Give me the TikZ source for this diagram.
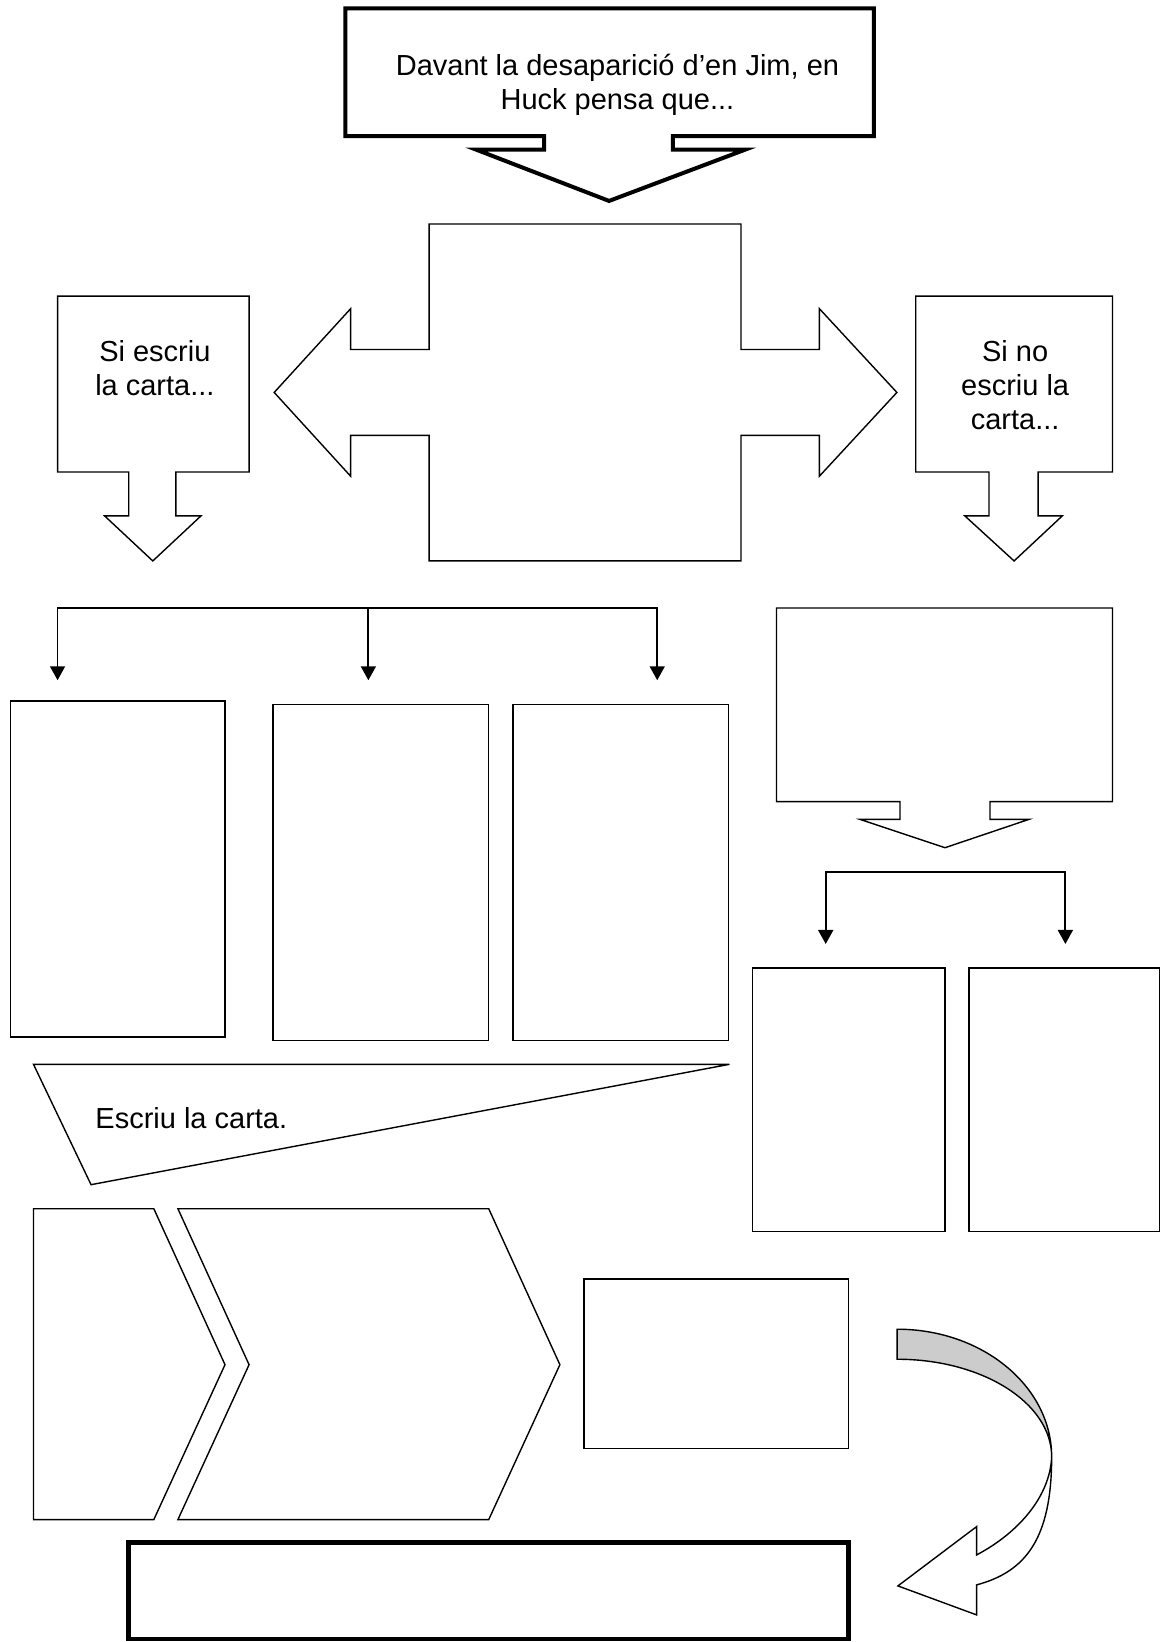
\documentclass[tikz,border=0pt]{standalone}
\usepackage{fontspec}
\setmainfont{Liberation Sans}
\usetikzlibrary{arrows.meta,fit}
\begin{document}
\begin{tikzpicture}[x=1.0466pt,y=-1.0466pt,
  outl/.style={draw, line width=1.4pt, line join=miter, fill=white},
  heavy/.style={draw, line width=4pt, line join=miter, fill=white},
  box/.style={draw, line width=1.4pt, inner sep=0pt},
  conn/.style={line width=1.8pt, -{Triangle[width=15pt,length=14pt]}},
  lbl/.style={font=\fontsize{29}{34}\selectfont, align=center, inner sep=0pt},
  backband/.style={draw, line width=1.4pt, fill=black!20}]
\useasboundingbox (0,0) rectangle (1116,1569);

% top callout
\path[heavy] (330,8) -- (835,8) -- (835,130) -- (643,130) -- (643,143) -- (712,143)
  -- (582,192) -- (455,143) -- (520,143) -- (520,130) -- (330,130) -- cycle;
\node[lbl] (top) at (590,81) {Davant la desaparició d’en Jim, en\\Huck pensa que...};

% central double arrow
\path[outl] (410,214) -- (708,214) -- (708,334) -- (783,334) -- (783,295) -- (857,375)
  -- (783,455) -- (783,416) -- (708,416) -- (708,536) -- (410,536) -- (410,416)
  -- (335,416) -- (335,455) -- (262,375) -- (335,295) -- (335,334) -- (410,334) -- cycle;

% left callout
\path[outl] (55,283) -- (238,283) -- (238,451) -- (168,451) -- (168,493) -- (192,493)
  -- (146,536) -- (100,493) -- (123,493) -- (123,451) -- (55,451) -- cycle;
\node[lbl] (siescriu) at (148,352) {Si escriu\\la carta...};

% right callout
\path[outl] (875,283) -- (1063,283) -- (1063,451) -- (992,451) -- (992,493) -- (1015,493)
  -- (969,536) -- (922,493) -- (945,493) -- (945,451) -- (875,451) -- cycle;
\node[lbl] (sinoescriu) at (970,368) {Si no\\escriu la\\carta...};

% left connectors
\coordinate (Lbar) at (352,581);
\coordinate (L1) at (55,650);
\coordinate (L2) at (352,650);
\coordinate (L3) at (628,650);
\draw[conn] (Lbar) -| (L1);
\draw[conn] (Lbar) -| (L3);
\draw[conn] (Lbar) -- (L2);

% three boxes
\node[box, fit={(10,670) (215,991)}] (b1) {};
\node[box, fit={(261,673) (467,994)}] (b2) {};
\node[box, fit={(490,673) (696,994)}] (b3) {};

% right upper callout
\path[outl] (742,581) -- (1063,581) -- (1063,766) -- (946,766) -- (946,783) -- (983,783)
  -- (903,810) -- (822,783) -- (860,783) -- (860,766) -- (742,766) -- cycle;

% right connectors
\coordinate (Rbar) at (903,833);
\coordinate (R1) at (789,902);
\coordinate (R2) at (1018,902);
\draw[conn] (Rbar) -| (R1);
\draw[conn] (Rbar) -| (R2);

% right boxes
\node[box, fit={(719,925) (903,1177)}] (b4) {};
\node[box, fit={(926,925) (1108,1177)}] (b5) {};

% banner
\path[outl] (32,1017) -- (697,1017) -- (87,1132) -- cycle;
\node[lbl, anchor=west] (escriu) at (91,1068) {Escriu la carta.};

% chevrons
\path[outl] (32,1155) -- (147,1155) -- (215,1304) -- (147,1452) -- (32,1452) -- cycle;
\path[outl] (170,1155) -- (467,1155) -- (535,1304) -- (467,1452) -- (170,1452) -- (238,1304) -- cycle;

% small rectangle
\node[box, fit={(558,1222) (811,1384)}] (b6) {};

% curved arrow: back band (grey)
\path[backband] (857.3,1270.1) .. controls (938.8,1270.1) and (1004.9,1324.7) .. (1004.9,1392.1)
  .. controls (1004.9,1340.6) and (938.8,1298.8) .. (857.3,1298.8) -- cycle;
% front part with head
\path[outl] (1004.9,1392.1) .. controls (1004.9,1471) and (979.5,1502) .. (933.2,1514.4)
  -- (933.2,1543.1) -- (858,1515.4) -- (933.2,1458.7) -- (933.2,1485.8)
  .. controls (974.6,1463.8) and (1003.3,1429) .. (1004.9,1392.1) -- cycle;

% bottom thick box
\node[draw, line width=4.5pt, inner sep=0pt, fit={(123,1474) (811,1566)}] (final) {};
\end{tikzpicture}
\end{document}
